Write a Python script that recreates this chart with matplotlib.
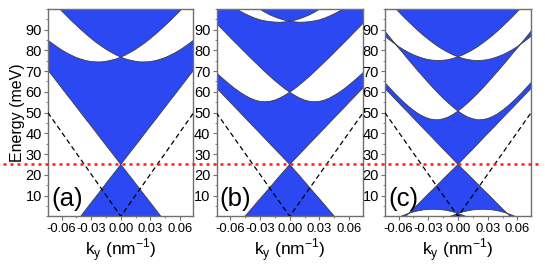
import numpy as np
import matplotlib
matplotlib.use("Agg")
import matplotlib.pyplot as plt
from matplotlib.lines import Line2D
from matplotlib.ticker import MultipleLocator

plt.rcParams['font.family'] = ['Liberation Sans', 'DejaVu Sans']
plt.rcParams['axes.unicode_minus'] = False

# ---------------- data ----------------
# sampling of the wave vector k_y (nm^-1)
k_y = [-0.075, -0.070, -0.065, -0.060, -0.055, -0.050, -0.045, -0.040,
       -0.035, -0.030, -0.025, -0.020, -0.015, -0.010, -0.005, 0.000,
       0.005, 0.010, 0.015, 0.020, 0.025, 0.030, 0.035, 0.040,
       0.045, 0.050, 0.055, 0.060, 0.065, 0.070, 0.075]

# Dirac-cone edge rising to the right (meV); the other edge is its mirror image
dirac_a = [-21.1, -18.1, -15.0, -11.9, -8.8, -5.8, -2.7, 0.4, 3.5, 6.6, 9.6,
           12.7, 15.8, 18.9, 21.9, 25.0, 28.1, 31.2, 34.2, 37.3, 40.4, 43.5,
           46.5, 49.6, 52.7, 55.8, 58.8, 61.9, 65.0, 68.1, 71.1]
dirac_b = [-16.6, -13.9, -11.1, -8.3, -5.5, -2.8, 0.0, 2.8, 5.6, 8.4, 11.1,
           13.9, 16.7, 19.5, 22.2, 25.0, 27.5, 30.0, 32.5, 35.0, 37.5, 40.0,
           42.5, 45.0, 47.5, 50.0, 52.5, 55.0, 57.5, 60.0, 62.5]
dirac_c = [-10.6, -8.3, -5.9, -3.5, -1.1, 1.3, 3.6, 6.0, 8.4, 10.8, 13.1,
           15.5, 17.9, 20.3, 22.6, 25.0, 27.5, 30.0, 32.4, 34.9, 37.4, 39.9,
           42.3, 44.8, 47.3, 49.8, 52.2, 54.7, 57.2, 59.7, 62.1]

# subband edges centred at +k (meV); partner subbands are their mirror images
band_a1 = [106.6, 104.0, 101.5, 99.0, 96.6, 94.2, 92.0, 89.8, 87.7, 85.7, 83.8,
           82.1, 80.5, 79.1, 77.8, 76.7, 75.8, 75.2, 74.7, 74.4, 74.4, 74.6,
           75.0, 75.7, 76.5, 77.6, 78.8, 80.2, 81.8, 83.5, 85.3]
band_b1 = [93.6, 91.1, 88.7, 86.2, 83.8, 81.4, 79.0, 76.6, 74.3, 72.0, 69.7,
           67.5, 65.4, 63.4, 61.5, 59.8, 58.3, 57.0, 56.0, 55.4, 55.2, 55.4,
           56.0, 57.0, 58.3, 59.8, 61.5, 63.4, 65.4, 67.5, 69.7]
band_b2 = [120.8, 117.7, 114.9, 112.2, 109.6, 107.3, 105.2, 103.2, 101.4, 99.8,
           98.4, 97.1, 96.1, 95.2, 94.5, 94.0, 93.7, 93.5, 93.6, 93.8, 94.2,
           94.7, 95.5, 96.5, 97.6, 98.9, 100.4, 102.1, 103.9, 106.0, 108.2]
band_c0 = [-28.6, -25.5, -22.5, -19.7, -17.1, -14.6, -12.3, -10.1, -8.1, -6.3,
           -4.6, -3.1, -1.7, -0.5, 0.5, 1.4, 2.1, 2.7, 3.1, 3.3, 3.4, 3.3, 3.1,
           2.7, 2.1, 1.4, 0.5, -0.5, -1.7, -3.1, -4.6]
band_c1 = [89.9, 86.9, 84.0, 81.1, 78.3, 75.4, 72.6, 69.8, 67.1, 64.4, 61.8,
           59.3, 56.9, 54.7, 52.6, 50.7, 49.1, 47.8, 47.0, 46.5, 46.6, 47.1,
           48.1, 49.4, 51.1, 53.0, 55.1, 57.4, 59.8, 62.4, 65.0]
band_c2 = [106.4, 103.7, 101.1, 98.6, 96.1, 93.8, 91.5, 89.3, 87.2, 85.3, 83.5,
           81.8, 80.3, 79.0, 77.8, 76.9, 76.1, 75.5, 75.2, 75.1, 75.2, 75.5,
           76.1, 76.9, 77.8, 79.0, 80.3, 81.8, 83.5, 85.3, 87.2]

# dashed guide (free-particle dispersion) and Dirac-point energy
guide_k = [-0.074, 0.0, 0.074]
guide_E = [50.0, 0.0, 50.0]
dirac_point = 25.0

panel_labels = ['(a)', '(b)', '(c)']
x_ticks = [-0.06, -0.03, 0.00, 0.03, 0.06]
x_ticklabels = ['-0.06', '-0.03', '0.00', '0.03', '0.06']
y_ticks = [10, 20, 30, 40, 50, 60, 70, 80, 90]

panels = [
    [dirac_a, band_a1],
    [dirac_b, band_b1, band_b2],
    [dirac_c, band_c0, band_c1, band_c2],
]

# ---------------- style ----------------
BLUE = '#2b48f2'
EDGE = '#3c3c3c'
FRAME = '#707070'

fig = plt.figure(figsize=(5.45, 2.67), dpi=100)
W, H = 545.0, 267.0
ax_px = [(48.3, 193.3), (216.7, 362.7), (385.3, 530.7)]
top_px, bot_px = 8.8, 216.3

k = np.array(k_y)
axes = []
for idx, (x0, x1) in enumerate(ax_px):
    ax = fig.add_axes([x0 / W, 1 - bot_px / H, (x1 - x0) / W, (bot_px - top_px) / H])
    axes.append(ax)
    curves = []
    for c in panels[idx]:
        c = np.array(c, dtype=float)
        curves.append(c)
        curves.append(c[::-1])
    S = np.sort(np.vstack(curves), axis=0)
    bounds = [np.full_like(k, -80.0)] + list(S) + [np.full_like(k, 250.0)]
    # regions alternate: filled where an even number of band edges lies below
    for i in range(0, len(bounds) - 1, 2):
        ax.fill_between(k, bounds[i], bounds[i + 1], facecolor=BLUE,
                        edgecolor='none', lw=0, zorder=1)
    for c in curves:
        ax.plot(k, c, color=EDGE, lw=0.6, zorder=2)
    ax.plot(guide_k, guide_E, color='black', lw=0.9,
            linestyle=(0, (4, 2.6)), zorder=3)

    ax.set_xlim(-0.0735, 0.0735)
    ax.set_ylim(0, 100)
    ax.set_xticks(x_ticks)
    ax.set_xticklabels(x_ticklabels)
    ax.set_yticks(y_ticks)
    ax.xaxis.set_minor_locator(MultipleLocator(0.015))
    ax.yaxis.set_minor_locator(MultipleLocator(5))
    ax.tick_params(which='major', direction='out', length=3, width=0.8,
                   color=FRAME, pad=1.5)
    ax.tick_params(axis='y', which='major', labelsize=10.5)
    ax.tick_params(axis='x', which='major', labelsize=9.4)
    ax.tick_params(which='minor', direction='out', length=1.6, width=0.6,
                   color=FRAME)
    for sp in ax.spines.values():
        sp.set_color(FRAME)
        sp.set_linewidth(1.0)
    ax.set_xlabel(r'k$_\mathregular{y}$ (nm$^\mathregular{-1}$)', fontsize=12.5,
                  labelpad=1.5)
    ax.text(0.02, 0.085, panel_labels[idx], transform=ax.transAxes,
            fontsize=18.5, ha='left', va='center', zorder=4)

axes[0].set_ylabel('Energy (meV)', fontsize=11.5, labelpad=0.5)

# red dotted line at the Dirac point across the whole figure
fig.canvas.draw()
y_fig = fig.transFigure.inverted().transform(
    axes[0].transData.transform((0.0, dirac_point)))[1]
fig.add_artist(Line2D([0.005, 0.995], [y_fig, y_fig], transform=fig.transFigure,
                      color='#ff1a1a', lw=1.8, linestyle=(0, (1.2, 1.6)),
                      zorder=10))

fig.savefig('out.png', dpi=100)
